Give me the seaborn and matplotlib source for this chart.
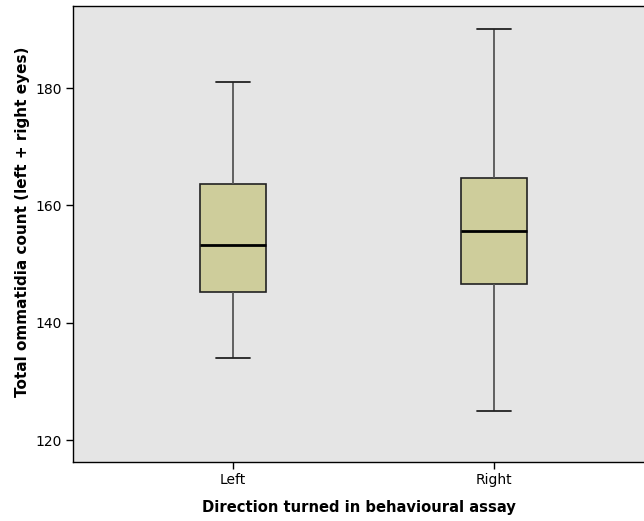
import numpy as np
import pandas as pd
import matplotlib
matplotlib.use("Agg")
import matplotlib.pyplot as plt
import seaborn as sns

categories = ["Left", "Right"]
# five-number summaries: min, Q1, median, Q3, max
left_summary = [134.0, 145.2, 153.2, 163.6, 181.0]
right_summary = [125.0, 146.6, 155.6, 164.6, 190.0]
y_ticks = [120, 140, 160, 180]

df = pd.DataFrame({
    "direction": [categories[0]] * len(left_summary) + [categories[1]] * len(right_summary),
    "count": left_summary + right_summary,
})

sns.set_style("white")
plt.rcParams["font.family"] = ["DejaVu Sans"]
plt.rcParams["text.color"] = "black"
plt.rcParams["axes.labelcolor"] = "black"

fig = plt.figure(figsize=(6.44, 5.21), dpi=100)
ax = fig.add_axes([73 / 644, 59 / 521, 571 / 644, 456 / 521])
ax.set_facecolor("#e5e5e5")

sns.boxplot(
    data=df, x="direction", y="count", order=categories, ax=ax,
    whis=np.inf, width=0.253, color="#cecd9b", saturation=1,
    linecolor="black", linewidth=1.0,
    boxprops=dict(facecolor="#cecd9b", edgecolor="#222222", linewidth=1.2),
    medianprops=dict(color="black", linewidth=2.0),
    whiskerprops=dict(color="#555555", linewidth=1.3),
    capprops=dict(color="#222222", linewidth=1.3),
    capwidths=0.127,
)

ax.set_xlim(-0.613, -0.613 + 571 / 261)
ax.set_ylim(116.25, 194.0)
ax.set_yticks(y_ticks)
ax.set_yticklabels([str(t) for t in y_ticks])
ax.tick_params(axis="both", direction="out", length=5, width=1, colors="black",
               labelsize=10, left=True, bottom=True, pad=3)
for side in ["top", "left", "bottom"]:
    ax.spines[side].set_visible(True)
    ax.spines[side].set_color("black")
    ax.spines[side].set_linewidth(1.0)
ax.spines["right"].set_visible(False)

ax.set_xlabel("Direction turned in behavioural assay", fontsize=10.6, fontweight="bold",
              labelpad=9, color="black")
ax.set_ylabel("Total ommatidia count (left + right eyes)", fontsize=11, fontweight="bold",
              color="black")
ax.yaxis.set_label_coords(-0.075, 0.526)

fig.savefig("out.png", dpi=100, facecolor="white")
